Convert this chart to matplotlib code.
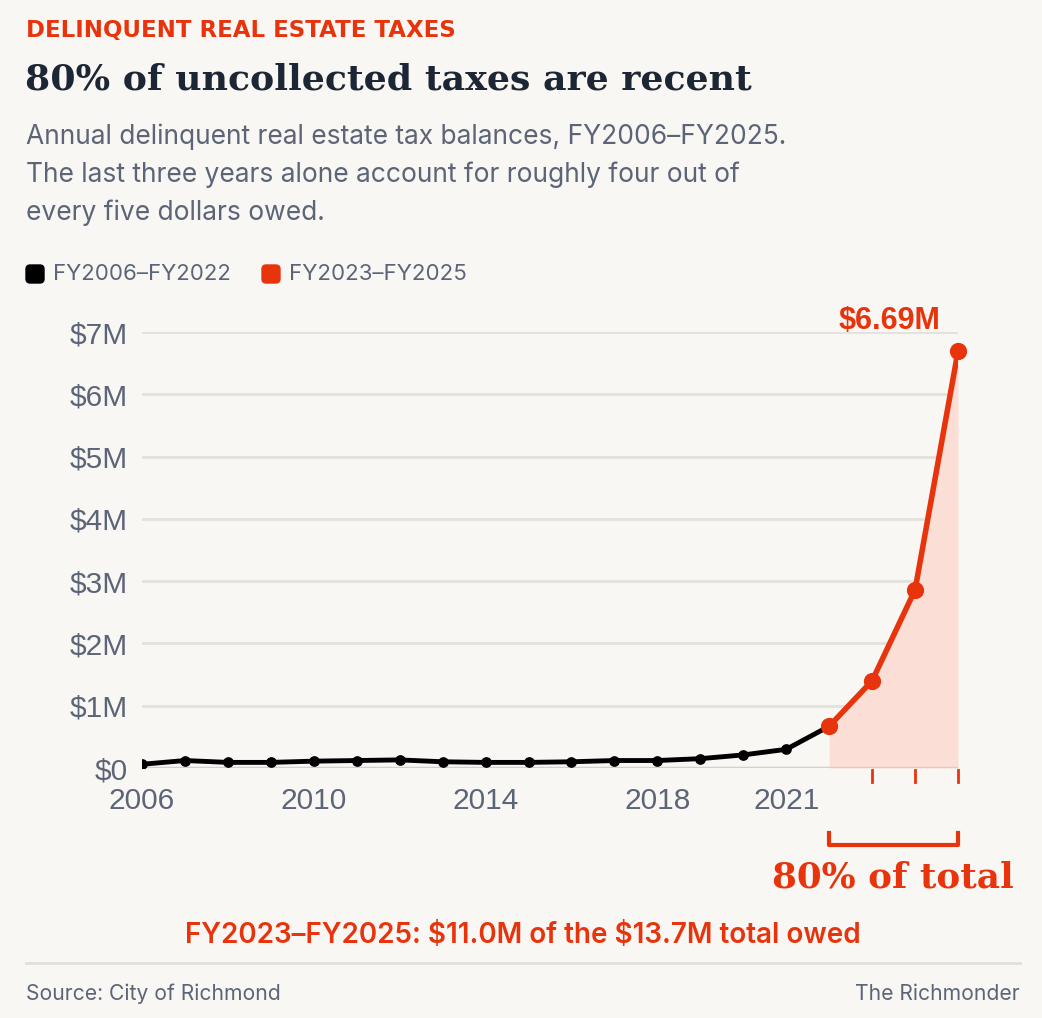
import matplotlib
matplotlib.use("Agg")
import matplotlib.pyplot as plt
from matplotlib.patches import FancyBboxPatch

# data (millions of dollars, fiscal years)
years = list(range(2006, 2026))
balance_m = [0.06, 0.12, 0.09, 0.09, 0.11, 0.12, 0.13, 0.10, 0.09, 0.09,
             0.10, 0.12, 0.12, 0.15, 0.21, 0.30, 0.67, 1.40, 2.86, 6.69]
split_year = 2022
y_ticks = [0, 1, 2, 3, 4, 5, 6, 7]
y_labels = ["\\$0", "\\$1M", "\\$2M", "\\$3M", "\\$4M", "\\$5M", "\\$6M", "\\$7M"]
x_ticks = [2006, 2010, 2014, 2018, 2021]
recent_years = [2023, 2024, 2025]

BG = "#f9f7f3"
RED = "#e8340c"
INK = "#1d2634"
GRAY = "#5c6577"
GRID = "#e4e1dc"

W, H = 1042, 1018
fig = plt.figure(figsize=(W / 100, H / 100), dpi=100, facecolor=BG)
renderer = fig.canvas.get_renderer()

def fx(x):
    return x / W

def fy(y):
    return 1 - y / H

def fit(t, width_px):
    # scale font size so the text spans width_px pixels
    w = t.get_window_extent(renderer).width
    t.set_fontsize(t.get_fontsize() * width_px / w)
    return t

ax = fig.add_axes([fx(142), fy(768), fx(958) - fx(142), fy(332) - fy(768)])
ax.set_facecolor(BG)

i = years.index(split_year)
old_x, old_y = years[:i + 1], balance_m[:i + 1]
new_x, new_y = years[i:], balance_m[i:]

ax.fill_between(new_x, new_y, 0, color="#fbdfd6", lw=0, zorder=1)
ax.plot(old_x, old_y, color="black", lw=3.5, zorder=3, solid_capstyle="round")
ax.scatter(old_x[:-1], old_y[:-1], s=45, color="black", zorder=4)
ax.plot(new_x, new_y, color=RED, lw=4, zorder=5, solid_capstyle="round")
ax.scatter(new_x, new_y, s=130, color=RED, zorder=6, clip_on=False)

ax.set_xlim(2006, 2025)
ax.set_ylim(0, 7)
ax.set_yticks(y_ticks)
ax.set_yticklabels(y_labels)
ax.set_xticks(x_ticks)
ax.set_xticklabels([str(x) for x in x_ticks])
for yv in y_ticks[1:]:
    ax.axhline(yv, color=GRID, lw=2, zorder=0)
ax.axhline(0, color="#d3d0ca", lw=2.5, zorder=2)
for s in ax.spines.values():
    s.set_visible(False)
ax.tick_params(length=0, labelsize=21.5, labelcolor=GRAY)
ax.tick_params(axis="x", pad=14)
ax.tick_params(axis="y", pad=10)
for lab in ax.get_xticklabels() + ax.get_yticklabels():
    lab.set_fontfamily("Liberation Sans")

# red ticks for the recent years
for yr in recent_years:
    ax.plot([yr, yr], [-0.03, -0.22], color=RED, lw=2, clip_on=False, zorder=6)

# peak label
fig.text(fx(889), fy(321), "\\$%.2fM" % balance_m[-1], ha="center", va="center",
         fontsize=22, fontweight="bold", color=RED, family="Liberation Sans")

# bracket under recent years
bx0 = ax.transData.transform((split_year, 0))[0]
bx1 = ax.transData.transform((years[-1], 0))[0]
fig.lines.append(plt.Line2D([fx(bx0), fx(bx0), fx(bx1), fx(bx1)],
                            [fy(833), fy(845), fy(845), fy(833)],
                            transform=fig.transFigure, color=RED, lw=3))
fit(fig.text(fx(893), fy(877), "80% of total", ha="center", va="center", fontsize=29,
             fontweight="bold", color=RED, family="DejaVu Serif"), 241)

# header
fit(fig.text(fx(26), fy(30), "DELINQUENT REAL ESTATE TAXES", ha="left", va="center",
             fontsize=15, fontweight="bold", color=RED, family="DejaVu Sans"), 429)
fit(fig.text(fx(25), fy(80), "80% of uncollected taxes are recent", ha="left", va="center",
             fontsize=30, fontweight="bold", color=INK, family="DejaVu Serif"), 725)
sub = ["Annual delinquent real estate tax balances, FY2006\u2013FY2025.",
       "The last three years alone account for roughly four out of",
       "every five dollars owed."]
t0 = fit(fig.text(fx(26), fy(137), sub[0], ha="left", va="center",
                  fontsize=17, color=GRAY, family="Inter"), 762)
for k, line in enumerate(sub[1:], start=1):
    fig.text(fx(26), fy(137 + 38 * k), line, ha="left", va="center",
             fontsize=t0.get_fontsize(), color=GRAY, family="Inter")

# legend
for lx, col, txt in [(26, "black", "FY2006\u2013FY2022"), (262, RED, "FY2023\u2013FY2025")]:
    fig.patches.append(FancyBboxPatch((fx(lx), fy(283)), fx(18), fy(265) - fy(283),
                                      boxstyle="round,pad=0,rounding_size=0.004",
                                      transform=fig.transFigure, color=col))
    fit(fig.text(fx(lx + 27), fy(274), txt, ha="left", va="center", fontsize=15,
                 color=GRAY, family="Inter"), 178)

# bottom note and footer
fit(fig.text(fx(523), fy(936), "FY2023\u2013FY2025: \\$11.0M of the \\$13.7M total owed",
             ha="center", va="center", fontsize=17, fontweight="semibold", color=RED,
             family="Inter"), 676)
fig.lines.append(plt.Line2D([fx(26), fx(1020)], [fy(963), fy(963)],
                            transform=fig.transFigure, color="#e2dfda", lw=2))
src = fit(fig.text(fx(26), fy(994), "Source: City of Richmond", ha="left", va="center",
                   fontsize=15, color=GRAY, family="Inter"), 254)
fig.text(fx(1020), fy(994), "The Richmonder", ha="right", va="center",
         fontsize=src.get_fontsize(), color=GRAY, family="Inter")

fig.savefig("out.png", dpi=100, facecolor=BG)
